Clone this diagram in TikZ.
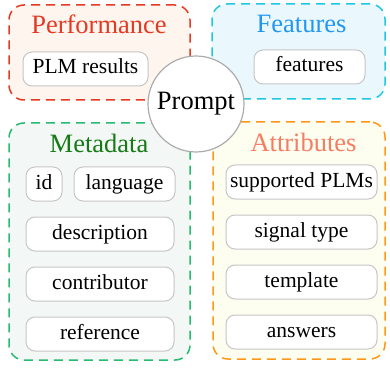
\documentclass[tikz,border=0pt]{standalone}
\usepackage{fontspec}
\setmainfont{Liberation Serif}
\usetikzlibrary{shapes, positioning, calc}

\definecolor{perfline}{RGB}{228,58,36}
\definecolor{perffill}{RGB}{253,245,238}
\definecolor{feattext}{RGB}{33,150,243}
\definecolor{featline}{RGB}{30,200,224}
\definecolor{featfill}{RGB}{234,248,254}
\definecolor{metatext}{RGB}{22,122,22}
\definecolor{metaline}{RGB}{40,186,112}
\definecolor{metafill}{RGB}{243,248,246}
\definecolor{attrtext}{RGB}{245,125,100}
\definecolor{attrline}{RGB}{255,152,22}
\definecolor{attrfill}{RGB}{253,253,240}

\begin{document}
\begin{tikzpicture}[
        x=1pt, y=1pt,
        node distance=15pt,
        group/.style={rectangle, dash pattern=on 9pt off 6pt, line width=1.5pt, rounded corners=15pt, minimum width=#1},
        title/.style={font=\fontsize{26.5}{28}\selectfont},
        item/.style={rectangle, draw=gray!45, line width=1pt, fill=white, rounded corners=9pt, minimum height=34pt, inner sep=2pt, font=\fontsize{21.5}{24}\selectfont, text height=14.5pt, text depth=4.5pt}
    ]
        \useasboundingbox (0,0) rectangle (390,367);

        % Groups
        \node[group=181pt, draw=perfline, fill=perffill, minimum height=95pt] (perf) at (99.5,314.5) {};
        \node[group=173pt, draw=featline, fill=featfill, minimum height=95pt] (feat) at (298.5,315.5) {};
        \node[group=181pt, draw=metaline, fill=metafill, minimum height=237pt] (meta) at (99.5,125.5) {};
        \node[group=172pt, draw=attrline, fill=attrfill, minimum height=237pt] (attr) at (299,126.5) {};

        % Titles
        \node[title, text=perfline] (perftitle) at (99,343) {Performance};
        \node[title, text=feattext] (feattitle) at (301.5,343) {Features};
        \node[title, text=metatext] (metatitle) at (99,224) {Metadata};
        \node[title, text=attrtext] (attrtitle) at (303.5,225) {Attributes};

        % Performance and Features
        \node[item, minimum width=125pt] (plm) at (85.5,298) {PLM results};
        \node[item, minimum width=111pt] (features) at (309.5,300) {features};

        % Metadata
        \node[item, minimum width=36pt] (id) at (44,183) {id};
        \node[item, minimum width=101pt, right=11pt of id] (language) {language};
        \node[item, minimum width=148pt, below=15pt of id.south west, anchor=north west] (description) {description};
        \node[item, minimum width=148pt, below=of description] (contributor) {contributor};
        \node[item, minimum width=148pt, below=of contributor] (reference) {reference};

        % Attributes
        \node[item, minimum width=151pt] (supported) at (301.5,185) {supported PLMs};
        \node[item, minimum width=151pt, below=of supported] (signal) {signal type};
        \node[item, minimum width=151pt, below=of signal] (template) {template};
        \node[item, minimum width=151pt, below=of template] (answers) {answers};

        % Prompt
        \node[circle, draw=gray!65, line width=1.2pt, fill=white, minimum size=96pt, font=\fontsize{26.5}{28}\selectfont] (prompt) at (196,263) {Prompt};
    \end{tikzpicture}
\end{document}
